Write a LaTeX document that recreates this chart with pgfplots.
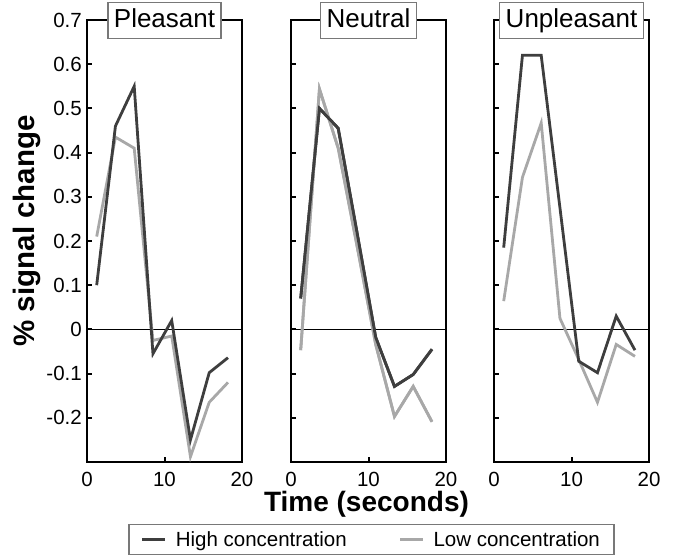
\documentclass[border=0pt]{standalone}
\usepackage{pgfplots}
\usepackage{pgfplotstable}
\pgfplotsset{compat=1.18}
\usepackage{fontspec}
\setmainfont{Liberation Sans}
\definecolor{hi}{RGB}{62,62,62}
\definecolor{lo}{RGB}{168,168,168}
\definecolor{bx}{RGB}{120,120,120}

\pgfplotstableread{
t hp lp hn ln hu lu
1.25 0.10 0.21 0.07 -0.047 0.185 0.064
3.67 0.46 0.435 0.50 0.544 0.62 0.344
6.09 0.55 0.41 0.455 0.41 0.62 0.467
8.51 -0.055 -0.025 0.22 0.19 0.275 0.025
10.93 0.02 -0.015 -0.018 -0.034 -0.072 -0.068
13.35 -0.25 -0.288 -0.129 -0.197 -0.098 -0.165
15.77 -0.098 -0.165 -0.102 -0.129 0.03 -0.034
18.19 -0.064 -0.12 -0.045 -0.209 -0.047 -0.061
}\data

\pgfplotsset{panel/.style={
  scale only axis, width=155pt, height=442pt, anchor=south west,
  xmin=0, xmax=20, ymin=-0.3, ymax=0.7,
  xtick={0,10,20}, ytick={-0.2,-0.1,0,0.1,0.2,0.3,0.4,0.5,0.6,0.7},
  tick align=inside, xtick pos=left, ytick pos=left,
  major tick length=5pt,
  every tick/.style={black, line width=2pt},
  axis line style={line width=2pt},
  tick label style={font=\fontsize{20.5}{24}\selectfont},
  /pgf/number format/assume math mode=true,
  yticklabel style={anchor=east, inner xsep=0pt, xshift=-5pt},
  xticklabel style={anchor=base, yshift=-25pt},
  title style={at={(0.5,1)}, anchor=center, yshift=-6.5pt, draw=bx, fill=white, line width=1.2pt,
    font=\fontsize{26}{30}\selectfont, inner xsep=6pt, inner ysep=5.5pt, text height=19.5pt, text depth=5.7pt},
  clip=false,
  hiline/.style={hi, line width=2.8pt},
  loline/.style={lo, line width=2.8pt},
}}

\begin{document}
\begin{tikzpicture}
\path[use as bounding box] (0pt,0pt) rectangle (674pt,556pt);

\begin{axis}[panel, at={(87pt,94pt)}, title={Pleasant},
  yticklabels={-0.2,-0.1,0,0.1,0.2,0.3,0.4,0.5,0.6,0.7},
  ylabel={\% signal change},
  ylabel style={at={(axis description cs:-0.387,0.523)}, anchor=center, rotate=0, font=\bfseries\fontsize{29.5}{34}\selectfont}]
\addplot[black, line width=1.2pt, forget plot] coordinates {(0,0) (20,0)};
\addplot[loline] table[x=t, y=lp] {\data};
\addplot[hiline] table[x=t, y=hp] {\data};
\end{axis}

\begin{axis}[panel, at={(291pt,94pt)}, title={Neutral}, yticklabels={},
  xlabel={Time (seconds)},
  xlabel style={at={(axis description cs:0.487,-0.113)}, anchor=base, font=\bfseries\fontsize{28}{32}\selectfont},
  legend columns=2,
  legend cell align=left,
  legend image code/.code={\draw[#1] (0pt,0pt) -- (23pt,0pt); \path (30pt,0pt);},
  legend style={at={(0.519,-0.140)}, anchor=north, draw=bx, line width=1.2pt,
    font=\fontsize{20.5}{24}\selectfont, inner xsep=12pt, inner ysep=5pt,
    /tikz/column 2/.style={column sep=50pt}}]
\addplot[black, line width=1.2pt, forget plot] coordinates {(0,0) (20,0)};
\addplot[loline, forget plot] table[x=t, y=ln] {\data};
\addplot[hiline] table[x=t, y=hn] {\data};
\addlegendentry{High concentration}
\addplot[loline] table[x=t, y=ln] {\data};
\addlegendentry{Low concentration}
\addplot[hiline, forget plot] table[x=t, y=hn] {\data};
\end{axis}

\begin{axis}[panel, at={(494pt,94pt)}, title={Unpleasant}, yticklabels={}]
\addplot[black, line width=1.2pt, forget plot] coordinates {(0,0) (20,0)};
\addplot[loline] table[x=t, y=lu] {\data};
\addplot[hiline] table[x=t, y=hu] {\data};
\end{axis}
\end{tikzpicture}
\end{document}
